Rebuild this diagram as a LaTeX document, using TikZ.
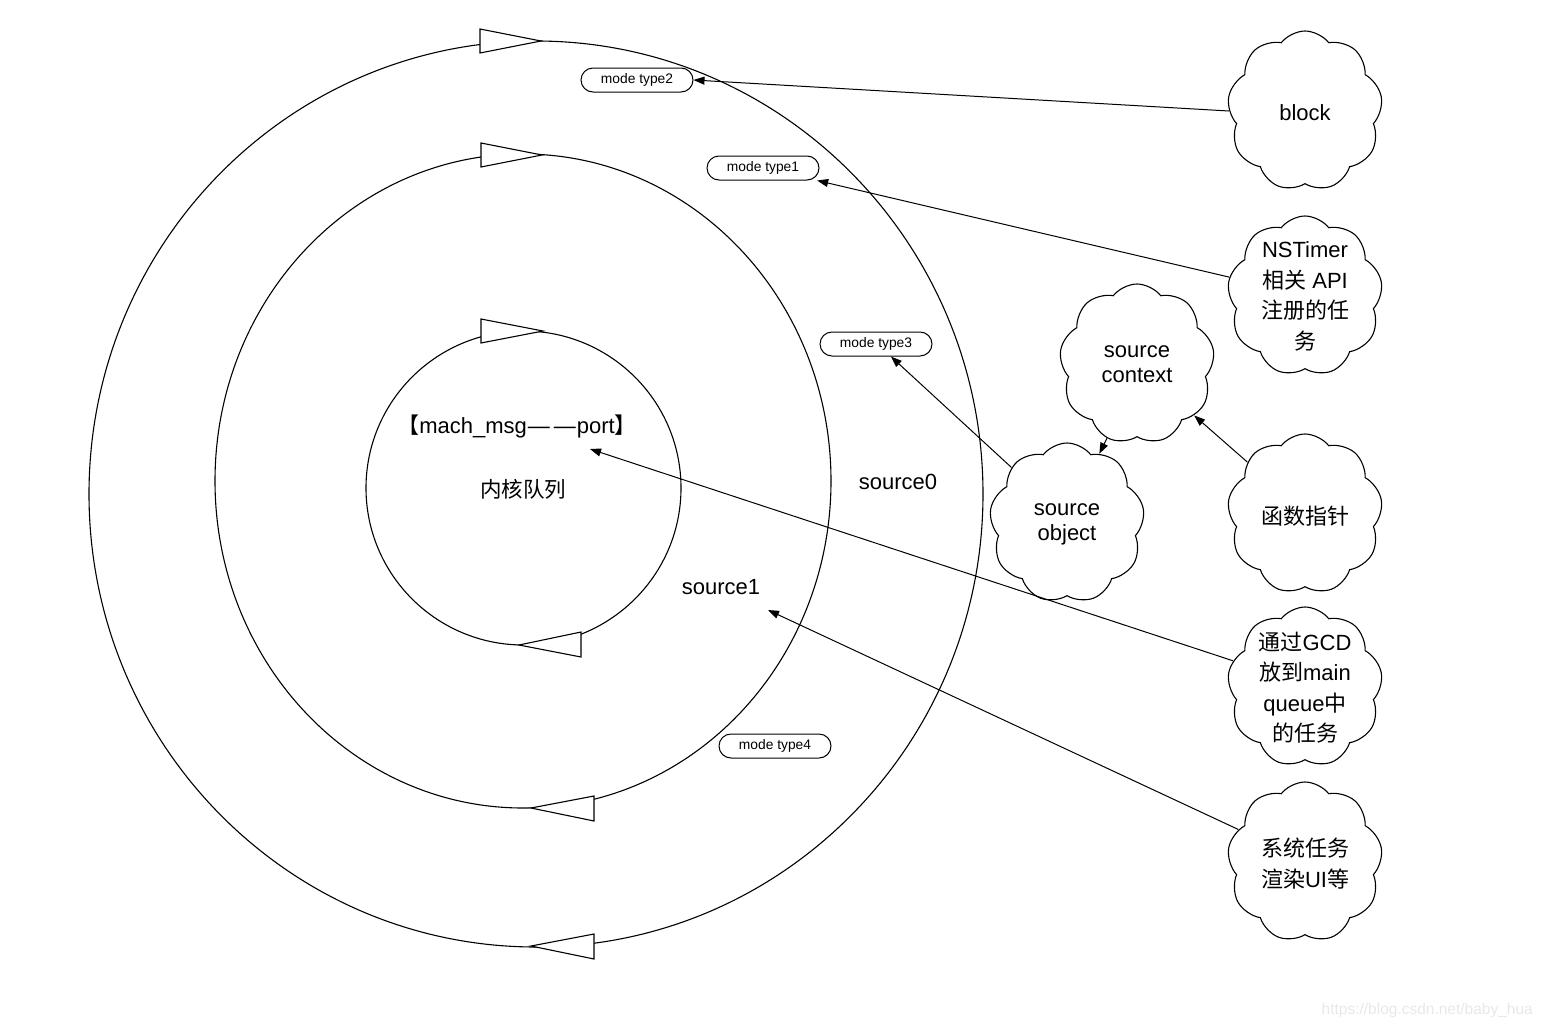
\documentclass[tikz,border=0pt]{standalone}
\usepackage{fontspec}
\setmainfont{Liberation Sans}
\newfontfamily\cjk{Noto Sans CJK SC}
\usetikzlibrary{shapes.symbols,arrows.meta}
\begin{document}
\begin{tikzpicture}[x=1pt,y=-1pt,
 ring/.style={line width=1.1pt},
 tri/.style={draw,fill=white,line width=1.1pt,line join=miter},
 pill/.style={draw,rounded corners=12pt,minimum width=112pt,minimum height=24pt,inner sep=0pt,line width=1pt,font=\fontsize{13.8}{15}\selectfont},
 cloudbox/.style={draw,cloud,cloud puffs=9,cloud puff arc=105,cloud ignores aspect,minimum width=155pt,minimum height=160pt,line width=1.1pt,inner sep=0pt},
 ctxt/.style={align=center,font=\fontsize{22}{30.5}\selectfont,inner sep=0pt},
 etxt/.style={align=center,font=\fontsize{22}{25}\selectfont,inner sep=0pt},
 conn/.style={line width=1pt,-{Triangle[length=11pt,width=8pt]}},
]
\path[use as bounding box] (0,0) rectangle (1542,1028);

% rings
\draw[ring] (536,494) ellipse [x radius=447, y radius=453];
\draw[ring] (523,481) ellipse [x radius=308, y radius=327];
\draw[ring] (523.5,488) ellipse [x radius=157.5, y radius=157];

% direction triangles
\draw[tri] (480,29) -- (480,53) -- (541,41) -- cycle;
\draw[tri] (481,143) -- (481,167) -- (542,155) -- cycle;
\draw[tri] (481,319) -- (481,343) -- (543,331) -- cycle;
\draw[tri] (581,632) -- (581,657) -- (519,645) -- cycle;
\draw[tri] (594,796) -- (594,821) -- (531,808) -- cycle;
\draw[tri] (594,934) -- (594,959) -- (531,946) -- cycle;

% labels inside rings
\node[etxt] (mach) at (517,426) {{\cjk 【}mach\_msg\hspace{1pt}—\hspace{4pt}—\hspace{1pt}port{\cjk 】}};
\node[ctxt,font=\cjk\fontsize{21.5}{25}\selectfont] (kq) at (523,489) {内核队列};
\node[etxt] (s0) at (898,482) {source0};
\node[etxt] (s1) at (721,587) {source1};
\coordinate (machtip) at (590,449);
\coordinate (s1tip) at (768,610);

% mode pills
\node[pill] (m2) at (637,80) {mode type2};
\node[pill] (m1) at (763,168) {mode type1};
\node[pill] (m3) at (876,344) {mode type3};
\node[pill] (m4) at (775,746) {mode type4};

% clouds
\node[cloudbox] (blk) at (1305,111) {};
\node[etxt] (blkt) at (1305,113) {block};
\node[cloudbox] (nst) at (1305,296) {};
\node[ctxt] (nstt) at (1305,296.5) {NSTimer\\{\cjk 相关} API\\{\cjk 注册的任}\\{\cjk 务}};
\node[cloudbox] (sctx) at (1137,364) {};
\node[etxt] (sctxt) at (1137,364.5) {source\\context};
\node[cloudbox] (sobj) at (1067,523) {};
\node[etxt] (sobjt) at (1067,524.5) {source\\object};
\node[cloudbox] (fp) at (1305,514) {};
\node[ctxt] (fpt) at (1305,516) {{\cjk 函数指针}};
\node[cloudbox] (gcd) at (1305,687) {};
\node[ctxt] (gcdt) at (1305,687.5) {{\cjk 通过}GCD\\{\cjk 放到}main\\queue{\cjk 中}\\{\cjk 的任务}};
\node[cloudbox] (sys) at (1305,862) {};
\node[ctxt] (syst) at (1305,863.5) {{\cjk 系统任务}\\{\cjk 渲染}UI{\cjk 等}};

% connectors
\draw[conn] (blk.west) -- (m2.east);
\draw[conn] (nst.166) -- (m1.-13);
\draw[conn] (sobj.135) -- (m3.-40);
\draw[conn] (sctx.-112) -- (sobj.65);
\draw[conn] (fp.138) -- (sctx.-42);
\draw[conn] (gcd.160) -- (machtip);
\draw[conn] (sys.154) -- (s1tip);

% watermark
\node[font=\fontsize{15.5}{18}\selectfont,text=black!9,anchor=east,inner sep=0pt] (wm) at (1533,1010) {https://blog.csdn.net/baby\_hua};
\end{tikzpicture}
\end{document}
